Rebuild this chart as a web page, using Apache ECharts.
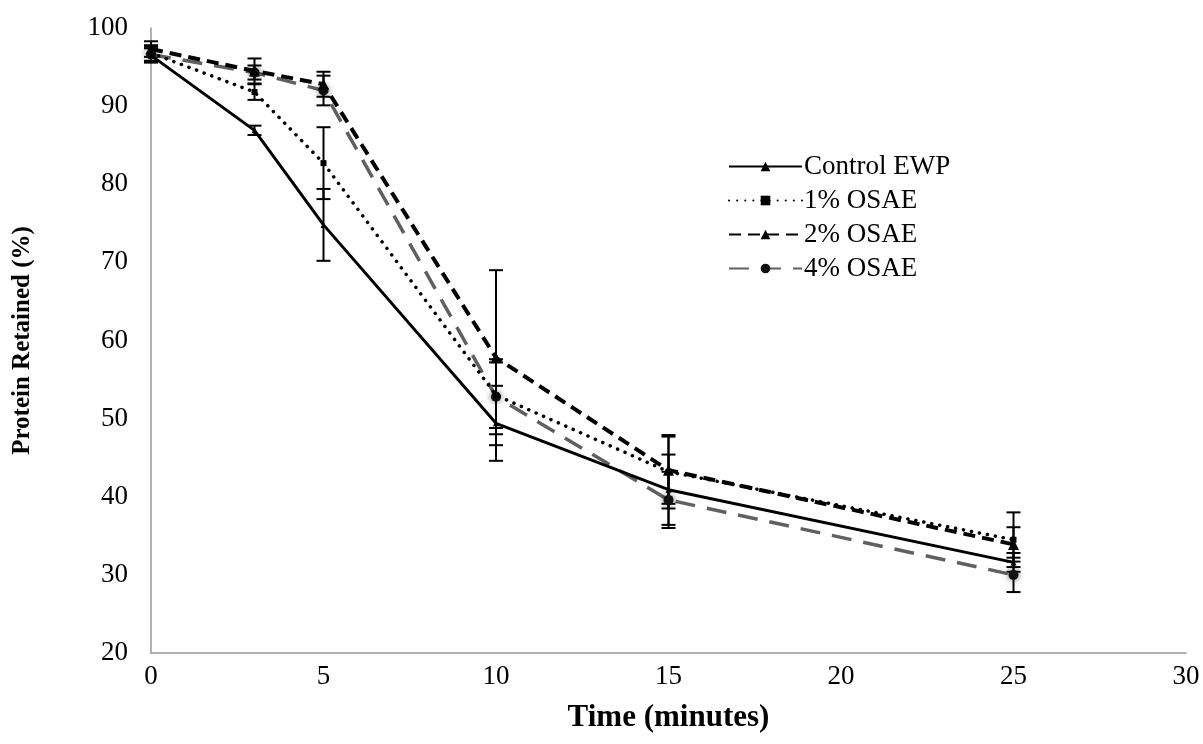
<!DOCTYPE html>
<html>
<head>
<meta charset="utf-8">
<script src="https://cdn.jsdelivr.net/npm/echarts@6/dist/echarts.min.js"></script>
<style>
  html, body { margin: 0; padding: 0; background: #fff; }
  #chart { width: 1203px; height: 744px; }
</style>
</head>
<body>
<div id="chart"></div>
<script>
// Heating time in minutes
const timeMin = [0, 3, 5, 10, 15, 25];

// Protein retained (%) per formulation, with standard deviations
const controlEWP = [96.5, 86.9, 74.8, 49.4, 40.9, 31.6];
const controlErr = [0.9, 0.6, 4.6, 4.8, 4.5, 1.2];

const osae1 = [96.8, 91.8, 82.7, 53.0, 43.2, 34.5];
const osae1Err = [1.0, 1.0, 4.6, 4.2, 4.7, 3.5];

const osae2 = [97.3, 94.5, 92.8, 57.8, 43.4, 33.9];
const osae2Err = [1.0, 1.6, 1.6, 11.2, 4.3, 2.2];

const osae4 = [96.6, 94.3, 92.0, 52.8, 39.6, 30.0];
const osae4Err = [1.0, 0.9, 1.9, 4.8, 3.6, 2.2];

const seriesNames = ['Control EWP', '1% OSAE', '2% OSAE', '4% OSAE'];

const font = '"Liberation Serif", "Times New Roman", serif';

function pairs(ys) {
  return timeMin.map((t, i) => [t, ys[i]]);
}

function errorData(ys, errs) {
  return timeMin.map((t, i) => [t, ys[i] - errs[i], ys[i] + errs[i]]);
}

// Vertical error bar with flat caps at both ends
function errorSeries(ys, errs) {
  return {
    type: 'custom',
    silent: true,
    z: 1,
    data: errorData(ys, errs),
    renderItem: function (params, api) {
      const lo = api.coord([api.value(0), api.value(1)]);
      const hi = api.coord([api.value(0), api.value(2)]);
      const half = 7;
      const style = { stroke: '#000', lineWidth: 2 };
      return {
        type: 'group',
        children: [
          { type: 'line', shape: { x1: lo[0], y1: lo[1], x2: hi[0], y2: hi[1] }, style: style },
          { type: 'line', shape: { x1: lo[0] - half, y1: lo[1], x2: lo[0] + half, y2: lo[1] }, style: style },
          { type: 'line', shape: { x1: hi[0] - half, y1: hi[1], x2: hi[0] + half, y2: hi[1] }, style: style }
        ]
      };
    }
  };
}

const chart = echarts.init(document.getElementById('chart'), null, { renderer: 'canvas' });

chart.setOption({
  backgroundColor: '#fff',
  animation: false,
  grid: { left: 151, right: 17, top: 28, bottom: 91, containLabel: false },
  legend: {
    orient: 'vertical',
    left: 723,
    top: 148,
    itemWidth: 73,
    itemHeight: 12,
    itemGap: 7,
    data: seriesNames,
    textStyle: { fontFamily: font, fontSize: 27, lineHeight: 27, color: '#000', padding: [0, 0, 0, -3] }
  },
  xAxis: {
    type: 'value',
    min: 0,
    max: 30,
    interval: 5,
    name: 'Time (minutes)',
    nameLocation: 'middle',
    nameGap: 49,
    nameTextStyle: { fontFamily: font, fontSize: 31, fontWeight: 'bold', color: '#000' },
    axisLine: { lineStyle: { color: '#9a9a9a', width: 1.5 } },
    axisTick: { show: false },
    splitLine: { show: false },
    axisLabel: { fontFamily: font, fontSize: 27, color: '#000', margin: 10 }
  },
  yAxis: {
    type: 'value',
    min: 20,
    max: 100,
    interval: 10,
    name: 'Protein Retained (%)',
    nameLocation: 'middle',
    nameGap: 116,
    nameRotate: 90,
    nameTextStyle: { fontFamily: font, fontSize: 25, fontWeight: 'bold', color: '#000' },
    axisLine: { show: true, lineStyle: { color: '#9a9a9a', width: 1.5 } },
    axisTick: { show: false },
    splitLine: { show: false },
    axisLabel: { fontFamily: font, fontSize: 27, color: '#000', margin: 23 }
  },
  series: [
    errorSeries(controlEWP, controlErr),
    errorSeries(osae1, osae1Err),
    errorSeries(osae2, osae2Err),
    errorSeries(osae4, osae4Err),
    {
      name: 'Control EWP',
      type: 'line',
      z: 5,
      data: pairs(controlEWP),
      symbol: 'triangle',
      symbolSize: 6,
      lineStyle: { color: '#000', width: 3, type: 'solid' },
      itemStyle: { color: '#000' }
    },
    {
      name: '1% OSAE',
      type: 'line',
      z: 4,
      data: pairs(osae1),
      symbol: 'rect',
      symbolSize: 6,
      lineStyle: { color: '#000', width: 3.5, type: [0.1, 8], cap: 'round' },
      itemStyle: { color: '#000' }
    },
    {
      name: '2% OSAE',
      type: 'line',
      z: 4,
      data: pairs(osae2),
      symbol: 'triangle',
      symbolSize: 11,
      lineStyle: { color: '#000', width: 4, type: [12, 7] },
      itemStyle: { color: '#000' }
    },
    {
      name: '4% OSAE',
      type: 'line',
      z: 3,
      data: pairs(osae4),
      symbol: 'circle',
      symbolSize: 10,
      lineStyle: { color: '#606060', width: 3.5, type: [20, 12] },
      itemStyle: { color: '#111', shadowBlur: 6, shadowColor: 'rgba(0,0,0,0.6)' }
    }
  ]
});
</script>
</body>
</html>
